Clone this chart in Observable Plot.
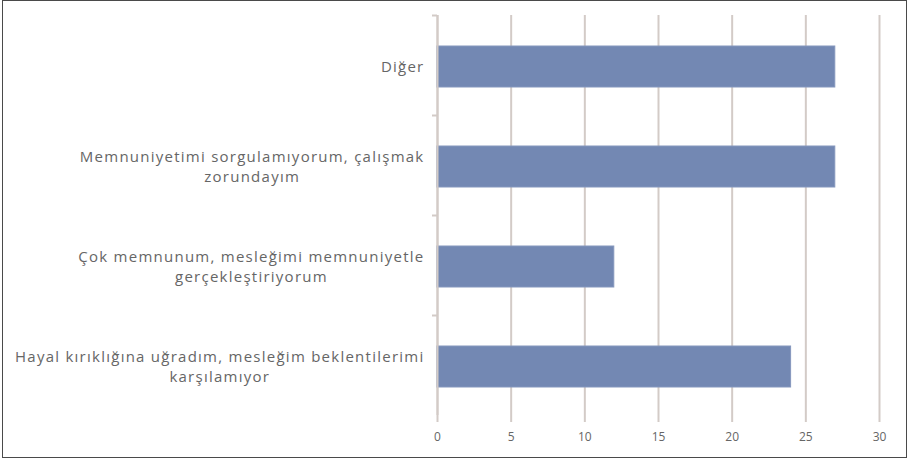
<!DOCTYPE html>
<html>
<head>
<meta charset="utf-8">
<script src="https://cdn.jsdelivr.net/npm/d3@7"></script>
<script src="https://cdn.jsdelivr.net/npm/@observablehq/plot@0.6"></script>
<style>
  body { margin: 0; background: #fff; }
  #wrap { position: relative; width: 908px; height: 460px; }
  #border { position: absolute; left: 2px; top: 0px; width: 903px; height: 456px; border: 1.5px solid #4a4a4a; pointer-events: none; }
</style>
</head>
<body>
<div id="wrap"><div id="border"></div></div>
<script>
const categories = [
  "Diğer",
  "Memnuniyetimi sorgulamıyorum, çalışmak zorundayım",
  "Çok memnunum, mesleğimi memnuniyetle gerçekleştiriyorum",
  "Hayal kırıklığına uğradım, mesleğim beklentilerimi karşılamıyor"
];
const tickLabels = [
  "Diğer",
  "Memnuniyetimi sorgulamıyorum, çalışmak\nzorundayım",
  "Çok memnunum, mesleğimi memnuniyetle\ngerçekleştiriyorum",
  "Hayal kırıklığına uğradım, mesleğim beklentilerimi\nkarşılamıyor"
];
const values = [27, 27, 12, 24];
const xTicks = [0, 5, 10, 15, 20, 25, 30];

const data = categories.map((c, i) => ({category: c, value: values[i], label: tickLabels[i]}));
const labelOf = new Map(data.map(d => [d.category, d.label]));

const gridColor = "#d3cbc7";
const chart = Plot.plot({
  width: 908,
  height: 460,
  marginLeft: 437,
  marginRight: 29,
  marginTop: 15,
  marginBottom: 45,
  style: {fontFamily: "'Open Sans', sans-serif", fontSize: "12px", color: "#666", background: "transparent"},
  x: {domain: [0, 30], ticks: xTicks},
  y: {domain: categories, padding: 0},
  marks: [
    Plot.gridX(xTicks, {stroke: gridColor, strokeOpacity: 1, strokeWidth: 2}),
    Plot.barX(data, {x: "value", y: "category", fill: "#7388b3", stroke: "#8597bd", strokeWidth: 1, insetTop: 31, insetBottom: 28}),
    Plot.ruleX([0], {stroke: gridColor, strokeWidth: 2}),
    Plot.ruleY([0], {frameAnchor: "bottom", stroke: gridColor, strokeWidth: 2}),
    Plot.axisX({ticks: xTicks, tickSize: 7, tickPadding: 10, stroke: gridColor, strokeWidth: 2, label: null, fill: "#666", fontSize: 12}),
    Plot.axisY({tickSize: 5, tickFormat: null, label: null, dy: -50, stroke: gridColor, strokeWidth: 2}),
    Plot.axisY({tickSize: 0, tickPadding: 13, label: null, tickFormat: d => labelOf.get(d), fill: "#666", fontSize: 15, lineHeight: 1.35})
  ]
});
document.getElementById("wrap").prepend(chart);

// center multi-line labels within their right-aligned block (Excel style)
chart.querySelectorAll("text").forEach(t => {
  const spans = t.querySelectorAll("tspan");
  if (!categories.some(c => labelOf.get(c).startsWith((spans[0] || t).textContent.slice(0, 5)))) return;
  t.setAttribute("letter-spacing", "1.25");
  if (spans.length < 2) return;
  const widths = Array.from(spans, s => s.getComputedTextLength());
  const w = Math.max(...widths);
  t.setAttribute("text-anchor", "middle");
  spans.forEach(s => s.setAttribute("x", -w / 2));
});
</script>
</body>
</html>
